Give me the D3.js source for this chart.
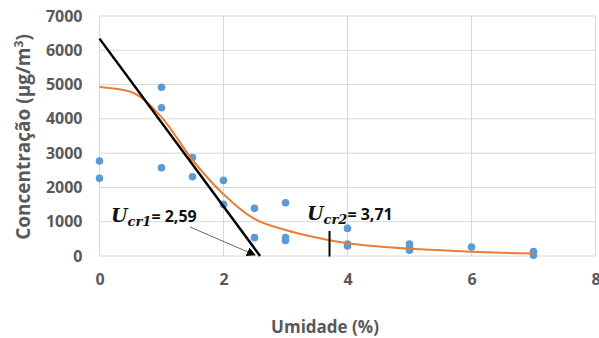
<!DOCTYPE html>
<html><head><meta charset="utf-8">
<script src="https://cdn.jsdelivr.net/npm/d3@7"></script>
<style>body{margin:0;background:#fff}svg{display:block}</style>
</head><body>
<svg id="c" width="599" height="338"></svg>
<script>
// Data
const umidade = [0,0, 1,1,1, 1.5,1.5, 2,2, 2.5,2.5, 3,3,3, 4,4,4, 5,5,5, 6, 7,7];
const concentracao = [2770,2265, 4920,4325,2575, 2875,2310, 2205,1505, 1390,535, 1555,540,450, 805,350,290, 350,250,170, 260, 130,20];
const fitX = [0,0.5,1,1.5,2,2.5,3,3.5,4,4.5,5,5.5,6,6.5,7];
const fitY = [4930,4790,4050,2800,1800,1080,760,540,370,280,215,165,125,95,70];
const lineX = [0, 2.59];
const lineY = [6340, 0];
const xTicks = [0,2,4,6,8];
const yTicks = [0,1000,2000,3000,4000,5000,6000,7000];
const ucr1 = 2.59, ucr2 = 3.71;

const svg = d3.select("#c");
const x = d3.scaleLinear().domain([0,8]).range([99.5,595.5]);
const y = d3.scaleLinear().domain([0,7000]).range([256,16]);
const grey = "#595959";
const font = "'Open Sans', sans-serif";

// grid
svg.append("g").selectAll("line").data(yTicks).join("line")
  .attr("x1",x(0)).attr("x2",x(8)).attr("y1",d=>y(d)).attr("y2",d=>y(d))
  .attr("stroke","#d9d9d9").attr("stroke-width",1);
svg.append("g").selectAll("line").data(xTicks).join("line")
  .attr("x1",d=>x(d)).attr("x2",d=>x(d)).attr("y1",y(0)).attr("y2",y(7000))
  .attr("stroke","#d9d9d9").attr("stroke-width",1);

// axes labels
const yAxis = d3.axisLeft(y).tickValues(yTicks).tickFormat(d3.format("d")).tickSize(0).tickPadding(17);
const ga = svg.append("g").attr("transform",`translate(${x(0)},0)`).call(yAxis);
ga.select(".domain").remove();
ga.selectAll("text").attr("fill",grey).style("font-family",font).style("font-weight","bold").style("font-size","16px");
const xAxis = d3.axisBottom(x).tickValues(xTicks).tickFormat(d3.format("d")).tickSize(0).tickPadding(18);
const gx = svg.append("g").attr("transform",`translate(0,${y(0)})`).call(xAxis);
gx.select(".domain").remove();
gx.selectAll("text").attr("fill",grey).style("font-family",font).style("font-weight","bold").style("font-size","16px");

svg.append("text").attr("x",325).attr("y",333).attr("text-anchor","middle")
  .attr("fill",grey).style("font-family",font).style("font-weight","bold").style("font-size","17px")
  .text("Umidade (%)");
svg.append("text").attr("transform","translate(30,137) rotate(-90)").attr("text-anchor","middle")
  .attr("fill",grey).style("font-family",font).style("font-weight","bold").style("font-size","19px")
  .html("Concentração (μg/m<tspan dy='-7' font-size='12px'>3</tspan><tspan dy='7'>)</tspan>");

// points
svg.append("g").selectAll("circle").data(umidade.map((u,i)=>[u,concentracao[i]])).join("circle")
  .attr("cx",d=>x(d[0])).attr("cy",d=>y(d[1])).attr("r",3.8).attr("fill","#5B9BD5");

// fit curve
svg.append("path").datum(fitX.map((u,i)=>[u,fitY[i]]))
  .attr("d",d3.line().x(d=>x(d[0])).y(d=>y(d[1])).curve(d3.curveMonotoneX))
  .attr("fill","none").attr("stroke","#ED7D31").attr("stroke-width",2);

// linear line
svg.append("line").attr("x1",x(lineX[0])).attr("y1",y(lineY[0])).attr("x2",x(lineX[1])).attr("y2",y(lineY[1]))
  .attr("stroke","#000").attr("stroke-width",2.5);

// Ucr2 marker
svg.append("line").attr("x1",x(ucr2)).attr("x2",x(ucr2)).attr("y1",231).attr("y2",256.5)
  .attr("stroke","#000").attr("stroke-width",2);

// arrow
const defs = svg.append("defs");
defs.append("marker").attr("id","ah").attr("viewBox","0 0 10 10").attr("refX",9).attr("refY",5)
  .attr("markerWidth",9).attr("markerHeight",9).attr("markerUnits","userSpaceOnUse").attr("orient","auto")
  .append("path").attr("d","M0,0 L10,5 L0,10 Z").attr("fill","#000");
svg.append("line").attr("x1",190).attr("y1",227).attr("x2",255).attr("y2",255)
  .attr("stroke","#666").attr("stroke-width",1).attr("marker-end","url(#ah)");

// labels
function ulabel(xp, yp, sub, val){
  const t = svg.append("text").attr("x",xp).attr("y",yp).attr("fill","#111")
    .style("font-weight","bold").style("font-size","19px");
  t.append("tspan").style("font-family","'DejaVu Serif', serif").style("font-style","italic").text("U");
  t.append("tspan").attr("dy",4).style("font-family","'DejaVu Serif', serif").style("font-style","italic").style("font-size","13px").text(sub);
  t.append("tspan").attr("dy",-4).style("font-family",font).style("font-size","16px").text("= " + val);
}
ulabel(111, 222, "cr1", "2,59");
ulabel(307, 220, "cr2", "3,71");
</script>
</body></html>
